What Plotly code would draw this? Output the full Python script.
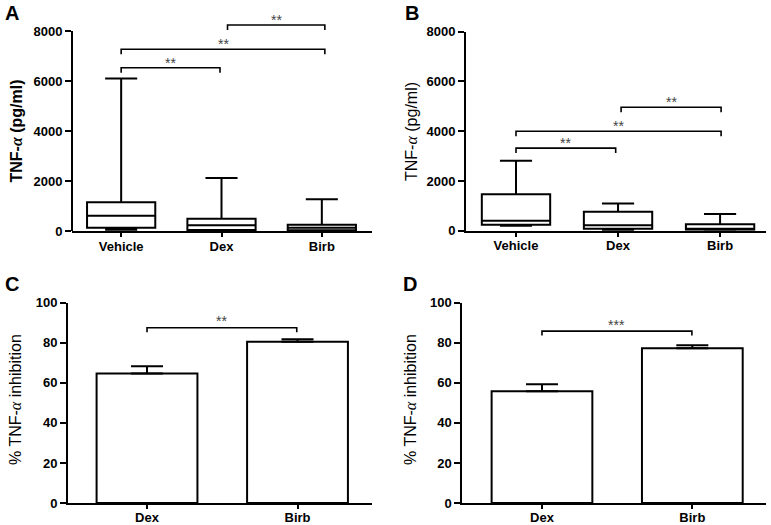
import plotly.graph_objects as go

W, H = 771, 525
FONT = "Liberation Sans, Arial, sans-serif"

# ---------------- data ----------------
groups_box = ["Vehicle", "Dex", "Birb"]
groups_bar = ["Dex", "Birb"]

# Panel A box plot (pg/ml)
a_lower = [50, 10, 5]
a_q1 = [133, 40, 30]
a_median = [612, 228, 133]
a_q3 = [1148, 492, 250]
a_upper = [6100, 2120, 1267]

# Panel B box plot (pg/ml)
b_lower = [200, 30, 10]
b_q1 = [240, 80, 40]
b_median = [400, 216, 80]
b_q3 = [1468, 760, 256]
b_upper = [2816, 1096, 668]

# Panel C / D bars (% inhibition) with SEM
c_mean = [64.7, 80.5]
c_sem = [3.6, 1.3]
d_mean = [55.8, 77.2]
d_sem = [3.5, 1.6]

# significance brackets: start, end (category index), height, label
a_br_x0 = [0, 0, 1.06]
a_br_x1 = [0.985, 2.03, 2.03]
a_br_y = [6532, 7268, 8240]
a_br_lab = ["**", "**", "**"]

b_br_x0 = [0, 0, 1.03]
b_br_x1 = [0.977, 2.01, 2.01]
b_br_y = [3320, 4000, 4960]
b_br_lab = ["**", "**", "**"]

c_br_x0 = [0]
c_br_x1 = [0.995]
c_br_y = [87.5]
c_br_lab = ["**"]

d_br_x0 = [0]
d_br_x1 = [0.997]
d_br_y = [85.8]
d_br_lab = ["***"]

box_ticks = [0, 2000, 4000, 6000, 8000]
bar_ticks = [0, 20, 40, 60, 80, 100]


def px_x(p):
    return p / W


def px_y(p):
    return 1 - p / H


fig = go.Figure()

tickfont = dict(family=FONT, size=13, color="black", weight="bold")


def add_box(n, lower, q1, med, q3, upper, width):
    fig.add_trace(go.Box(
        x=list(range(len(groups_box))), lowerfence=lower, q1=q1, median=med,
        q3=q3, upperfence=upper, width=width, whiskerwidth=0.47,
        fillcolor="white", line=dict(color="black", width=2),
        boxpoints=False, showlegend=False, hoverinfo="skip",
        xaxis="x" if n == 1 else "x%d" % n, yaxis="y" if n == 1 else "y%d" % n))


def add_bar(n, mean, sem):
    fig.add_trace(go.Bar(
        x=list(range(len(groups_bar))), y=mean, width=0.67,
        marker=dict(color="white", line=dict(color="black", width=2)),
        error_y=dict(type="data", array=sem, arrayminus=[0] * len(sem),
                     symmetric=False, color="black", thickness=2, width=16),
        showlegend=False, hoverinfo="skip",
        xaxis="x%d" % n, yaxis="y%d" % n))


def add_brackets(n, x0s, x1s, ys, labs, drop, star_shift):
    xr = "x" if n == 1 else "x%d" % n
    yr = "y" if n == 1 else "y%d" % n
    for x0, x1, y, lab in zip(x0s, x1s, ys, labs):
        fig.add_trace(go.Scatter(
            x=[x0, x0, x1, x1], y=[y - drop, y, y, y - drop], mode="lines",
            line=dict(color="black", width=1.6), showlegend=False,
            hoverinfo="skip", xaxis=xr, yaxis=yr))
        fig.add_annotation(x=(x0 + x1) / 2, y=y, xref=xr, yref=yr, text=lab,
                           showarrow=False, yanchor="middle", yshift=star_shift,
                           font=dict(family=FONT, size=14, color="#444"))


add_box(1, a_lower, a_q1, a_median, a_q3, a_upper, 0.68)
add_box(2, b_lower, b_q1, b_median, b_q3, b_upper, 0.67)
add_bar(3, c_mean, c_sem)
add_bar(4, d_mean, d_sem)

add_brackets(1, a_br_x0, a_br_x1, a_br_y, a_br_lab, 200, 5)
add_brackets(2, b_br_x0, b_br_x1, b_br_y, b_br_lab, 200, 5)
add_brackets(3, c_br_x0, c_br_x1, c_br_y, c_br_lab, 2.2, 7)
add_brackets(4, d_br_x0, d_br_x1, d_br_y, d_br_lab, 2.2, 6)

xcommon = dict(showline=True, linewidth=2, linecolor="black", ticks="outside",
               ticklen=4, tickwidth=2, tickcolor="black", showgrid=False,
               zeroline=False, tickfont=tickfont, fixedrange=True,
               automargin=False)
ycommon = dict(linewidth=2, linecolor="black", ticks="outside", ticklen=6,
               tickwidth=2, tickcolor="black", showgrid=False, zeroline=False,
               tickfont=tickfont, fixedrange=True, automargin=False)

fig.update_layout(
    width=W, height=H,
    margin=dict(l=0, r=0, t=0, b=0, pad=0, autoexpand=False),
    paper_bgcolor="white", plot_bgcolor="white",
    xaxis=dict(xcommon, domain=[px_x(72), px_x(372)], range=[-0.49, 2.5],
               tickvals=[0, 1, 2], ticktext=groups_box, anchor="y",
               ticklabelstandoff=-2),
    yaxis=dict(ycommon, domain=[px_y(231), px_y(11)], range=[0, 8800],
               showline=False, tickvals=box_ticks, anchor="x"),
    xaxis2=dict(xcommon, domain=[px_x(466), px_x(766)], range=[-0.49, 2.45],
                tickvals=[0, 1, 2], ticktext=groups_box, anchor="y2",
                ticklabelstandoff=-2),
    yaxis2=dict(ycommon, domain=[px_y(230.7), px_y(31.7)], range=[0, 8000],
                showline=True, tickvals=box_ticks, anchor="x2"),
    xaxis3=dict(xcommon, domain=[px_x(68), px_x(372)], range=[-0.525, 1.495],
                tickvals=[0, 1], ticktext=groups_bar, anchor="y3",
                ticklabelstandoff=-3),
    yaxis3=dict(ycommon, domain=[px_y(503), px_y(302.7)], range=[0, 100],
                showline=True, tickvals=bar_ticks, anchor="x3"),
    xaxis4=dict(xcommon, domain=[px_x(462.3), px_x(766)], range=[-0.53, 1.49],
                tickvals=[0, 1], ticktext=groups_bar, anchor="y4",
                ticklabelstandoff=-3),
    yaxis4=dict(ycommon, domain=[px_y(503), px_y(302.7)], range=[0, 100],
                showline=True, tickvals=bar_ticks, anchor="x4"),
)

# y axis line of panel A stops at the top tick (8000)
fig.add_shape(type="line", xref="x domain", yref="y", x0=0, x1=0,
              y0=box_ticks[0], y1=box_ticks[-1],
              line=dict(color="black", width=2))

alpha = "<span style='font-family:Liberation Serif'><i>α</i></span>"
titles = [
    ("TNF-" + alpha + " (pg/ml)", 16, 131.5, "bold"),
    ("TNF-" + alpha + " (pg/ml)", 411, 132, "normal"),
    ("% TNF-" + alpha + " inhibition", 15, 400, "normal"),
    ("% TNF-" + alpha + " inhibition", 410, 400, "normal"),
]
for txt, x, y, wt in titles:
    fig.add_annotation(x=px_x(x), y=px_y(y), xref="paper", yref="paper",
                       text=txt, textangle=-90, showarrow=False,
                       xanchor="center", yanchor="middle",
                       font=dict(family=FONT, size=16, color="black", weight=wt))

panel_labels = [("A", 12, 13.5), ("B", 412, 13.5), ("C", 12, 283.5), ("D", 410, 283.5)]
for lab, x, y in panel_labels:
    fig.add_annotation(x=px_x(x), y=px_y(y), xref="paper", yref="paper",
                       text=lab, showarrow=False, xanchor="center",
                       yanchor="middle",
                       font=dict(family=FONT, size=20, color="black", weight="bold"))

fig.write_html("out.html",
               config={"displayModeBar": False, "staticPlot": True},
               post_script="document.body.style.margin='0';"
                           "document.body.style.overflow='hidden';")
